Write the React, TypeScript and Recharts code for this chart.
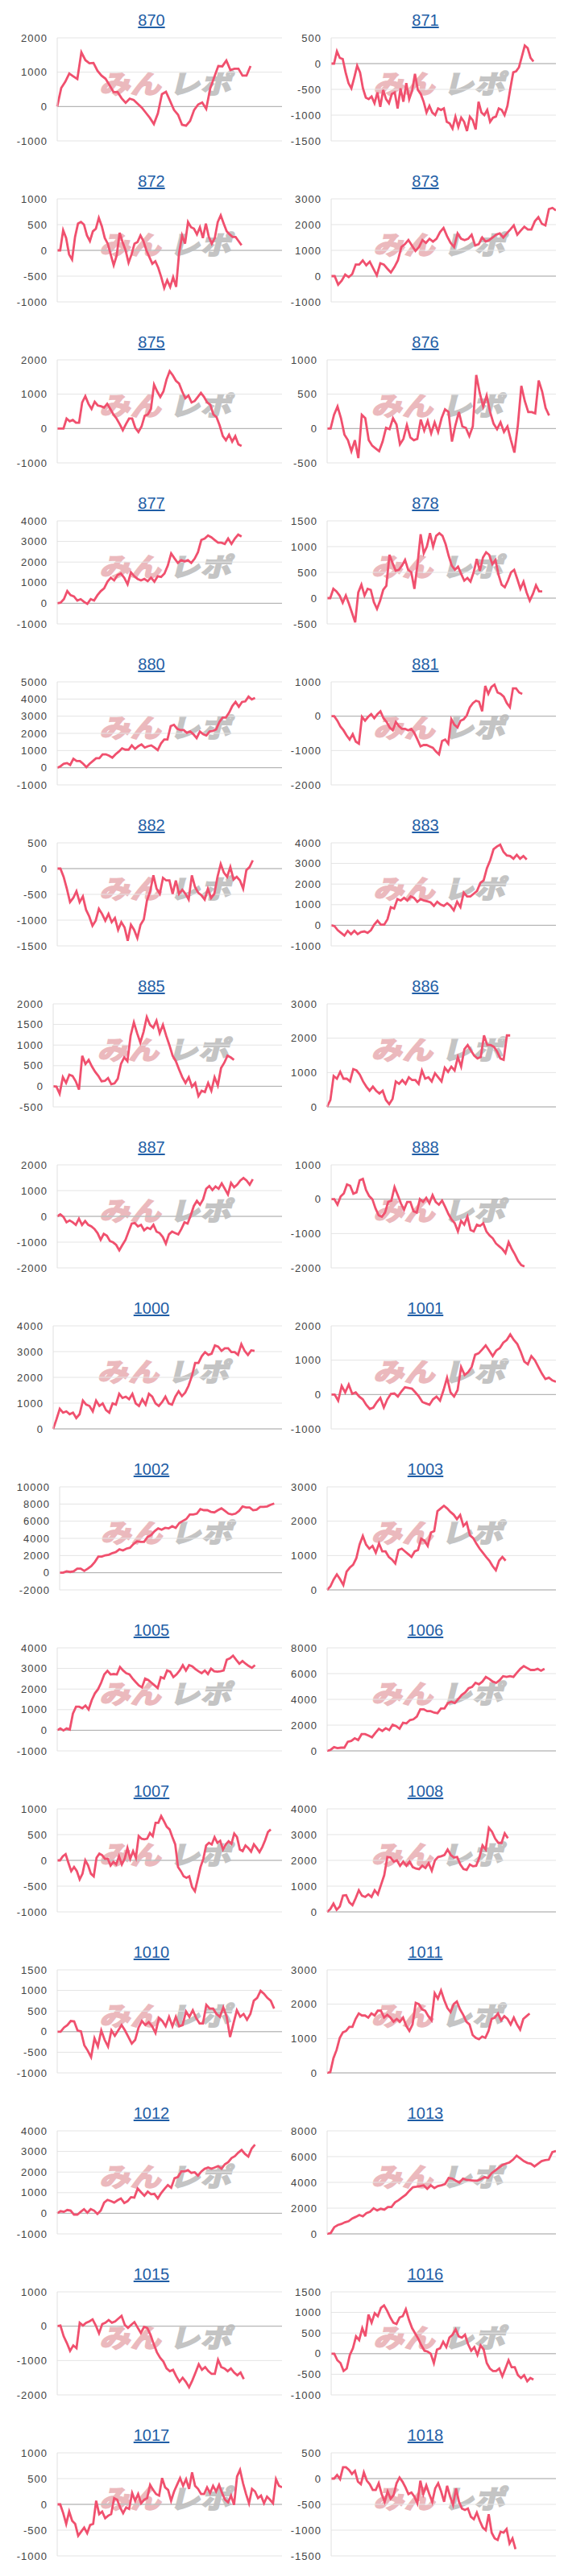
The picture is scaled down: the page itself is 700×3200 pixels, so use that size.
import { LineChart, Line, XAxis, YAxis, CartesianGrid, ReferenceLine } from 'recharts'

// machine numbers, in page order
const TITLES = [
  '870', '871', '872', '873', '875', '876', '877', '878',
  '880', '881', '882', '883', '885', '886', '887', '888',
  '1000', '1001', '1002', '1003', '1005', '1006', '1007', '1008',
  '1010', '1011', '1012', '1013', '1015', '1016', '1017', '1018',
]

// running balance per machine
const s870 = [0, 540, 720, 960, 880, 800, 1580, 1350, 1260, 1270, 1040, 900, 810, 620, 420, 420, 240, 110, 230, 190, 80, -30, -180, -330, -510, -200, 360, 430, 170, -100, -240, -530, -560, -420, -100, 60, 120, -70, 530, 860, 1180, 1170, 1340, 1060, 1100, 1100, 900, 900, 1180]
const s871 = [0, 0, 240, 110, 90, -170, -380, -480, -270, -40, -170, -480, -660, -690, -640, -770, -560, -840, -510, -690, -770, -590, -560, -870, -480, -740, -380, -690, -530, -200, -510, -590, -740, -950, -820, -950, -1000, -870, -900, -870, -1130, -1160, -1260, -1030, -1230, -1050, -1130, -1310, -1030, -1100, -1280, -740, -950, -1000, -900, -1130, -1050, -1030, -870, -900, -1000, -820, -480, -170, -150, -70, 140, 350, 300, 110, 40]
const s872 = [0, 0, 390, 240, -80, -180, 260, 520, 550, 500, 290, 180, 370, 420, 630, 470, 240, 130, -80, -290, -100, 340, 160, 0, -240, -80, 130, 160, 290, 180, 0, -130, -260, -210, -340, -520, -730, -580, -710, -520, -710, -50, 290, 130, 550, 450, 420, 310, 450, 240, 520, 260, 130, 240, 550, 680, 520, 370, 310, 260, 260, 180, 100]
const s873 = [0, 0, -330, -180, 60, -40, 80, 450, 450, 610, 420, 560, 290, 30, 500, 450, 290, 140, 350, 610, 1130, 1240, 1400, 1190, 980, 1130, 1400, 1290, 1450, 1340, 1450, 1710, 1870, 1550, 1290, 1130, 1660, 1450, 1400, 1450, 1610, 1190, 1240, 1500, 1340, 1400, 1500, 1610, 1660, 1500, 1660, 1810, 1970, 1610, 1770, 1920, 1810, 1810, 2130, 2290, 2030, 1970, 2600, 2650, 2550]
const s875 = [0, 0, 0, 290, 210, 250, 170, 170, 760, 940, 720, 570, 780, 670, 650, 610, 720, 570, 410, 290, 130, -50, 130, 290, 290, 20, -100, 60, 370, 410, 570, 1280, 1080, 920, 1080, 1430, 1670, 1550, 1390, 1310, 1080, 880, 960, 760, 800, 920, 1040, 920, 760, 690, 410, 330, 90, -220, -340, -180, -380, -220, -460, -510]
const s876 = [0, 0, 200, 320, 150, -90, -170, -330, -170, -430, 200, 150, -170, -250, -290, -330, -190, 10, -10, 150, 60, -230, -150, 50, -130, -170, -150, 130, -30, 110, -70, 90, -50, 150, 280, 240, -190, 50, 240, 30, 10, -110, 30, 780, 520, 320, 480, 240, 70, -10, 90, -50, 30, -170, -350, 50, 620, 400, 240, 240, 220, 700, 540, 300, 190]
const s877 = [0, 30, 200, 590, 390, 330, 130, 200, 70, -30, 200, 130, 390, 590, 720, 1050, 1240, 1110, 1370, 1440, 1240, 920, 1500, 1310, 1180, 1110, 1180, 1070, 1240, 1050, 1310, 1280, 1440, 1830, 2420, 2180, 1960, 2090, 2030, 2090, 1960, 2160, 2480, 3070, 3140, 3290, 3200, 3070, 2940, 2940, 2880, 3140, 2880, 3140, 3330, 3240]
const s878 = [0, 0, 180, 130, 50, -90, 50, -110, -290, -470, 110, 260, 50, 180, 160, -80, -210, -50, 160, 240, 840, 680, 530, 550, 630, 740, 550, 500, 180, 660, 1240, 870, 1000, 1260, 1000, 1210, 1260, 1210, 1050, 820, 630, 550, 610, 470, 340, 390, 320, 500, 760, 530, 790, 890, 840, 660, 740, 450, 260, 210, 340, 500, 550, 370, 180, 320, 110, -50, 80, 250, 130, 130]
const s880 = [0, 80, 230, 270, 160, 520, 390, 390, 230, 30, 230, 390, 550, 550, 780, 780, 700, 580, 780, 940, 1130, 1050, 1050, 1300, 1090, 1250, 1360, 1170, 1250, 1300, 1170, 1020, 1410, 1640, 1640, 2420, 2500, 2270, 2190, 2190, 2030, 2110, 1950, 1720, 2110, 1950, 1880, 2110, 2140, 2230, 2660, 2920, 2920, 3200, 3590, 3830, 3550, 3830, 3860, 4140, 3980, 4060]
const s881 = [0, 0, -130, -300, -410, -560, -680, -520, -740, -800, -20, -130, -20, 60, -60, 60, 140, -60, -170, -330, -410, -170, -290, -370, -370, -410, -370, -490, -680, -880, -840, -840, -880, -920, -1030, -1110, -720, -680, -800, -90, -250, -330, -130, -90, 20, 260, 380, 450, 420, 140, 880, 650, 850, 920, 690, 650, 570, 380, 260, 810, 810, 690, 650]
const s882 = [0, 0, -160, -390, -650, -570, -440, -650, -540, -800, -930, -1110, -1010, -780, -880, -1010, -880, -1040, -960, -1190, -1040, -1140, -1400, -1090, -1190, -1350, -1090, -990, -620, -440, -130, -390, -490, -180, -230, -230, -490, -230, -490, -410, -490, -600, -130, -360, -470, -520, -600, -390, -570, -490, -160, 90, -80, -160, 30, -210, -160, -230, -390, -30, 30, 160]
const s883 = [0, -40, -240, -370, -500, -270, -430, -270, -430, -330, -300, -370, -240, 30, 220, 30, 30, 290, 880, 810, 1270, 1200, 1330, 1200, 1400, 1330, 1140, 1270, 1200, 1160, 1110, 940, 1140, 1010, 940, 1070, 940, 720, 1140, 880, 1590, 1400, 1400, 1530, 1660, 2050, 2180, 2770, 3160, 3690, 3820, 3910, 3560, 3390, 3360, 3230, 3420, 3230, 3360, 3190]
const s885 = [0, -10, -180, 220, 80, 280, 250, 120, -80, 740, 540, 640, 480, 350, 250, 120, 130, 200, 50, 70, 180, 540, 700, 610, 1230, 1550, 1290, 1060, 1320, 1680, 1490, 1420, 1590, 1290, 1490, 1230, 1000, 740, 610, 410, 220, 80, 220, -10, 80, -240, -110, -140, 80, -110, 220, 20, 440, 570, 740, 700, 640]
const s886 = [0, 200, 900, 820, 1020, 820, 820, 740, 1100, 1060, 940, 740, 590, 470, 590, 470, 390, 470, 200, 80, 230, 740, 670, 780, 670, 860, 780, 780, 670, 1060, 820, 860, 740, 980, 860, 740, 1140, 1020, 1170, 1060, 1450, 1170, 1680, 1800, 1640, 1490, 1410, 1450, 2080, 1800, 1800, 1750, 1610, 1410, 1370, 2080, 2080]
const s887 = [0, 80, -20, -230, -160, -230, -330, -90, -330, -180, -330, -390, -490, -650, -910, -680, -750, -960, -1010, -1110, -1320, -1110, -910, -590, -280, -260, -390, -330, -540, -440, -490, -330, -590, -650, -800, -1060, -700, -590, -650, -700, -490, -230, -280, 30, 400, 600, 450, 660, 1070, 1180, 1020, 1160, 1070, 1280, 1070, 850, 1300, 1130, 1230, 1390, 1490, 1390, 1230, 1440]
const s888 = [0, 0, -160, 80, 170, 430, 390, 160, 200, 550, 590, 270, 90, 0, -270, -470, -510, -390, -80, -40, 350, 120, -120, -310, -80, -80, -350, -390, 0, -80, 40, -120, 120, -80, -160, -40, -230, -430, -590, -700, -940, -630, -740, -510, -900, -940, -740, -780, -700, -940, -1060, -1140, -1290, -1370, -1450, -1570, -1250, -1450, -1610, -1800, -1920, -1960]
const s1000 = [0, 370, 780, 630, 680, 570, 630, 420, 570, 1100, 940, 890, 680, 1100, 890, 990, 730, 630, 990, 940, 1360, 1200, 1250, 1150, 1360, 990, 890, 1150, 940, 1360, 1250, 990, 890, 1040, 1250, 990, 940, 1250, 1460, 1270, 1410, 1670, 2040, 2560, 2560, 2820, 2980, 2870, 2920, 3240, 3190, 3030, 3130, 3130, 2980, 2980, 2870, 3290, 3030, 2870, 3050, 3030]
const s1001 = [0, 0, -180, 250, 60, 290, 20, 60, -60, -140, -300, -420, -380, -220, -100, -380, -140, 20, 30, -60, 90, 210, 190, 170, 60, -60, -220, -260, -300, -140, -60, -180, 130, 490, 60, -60, 130, 800, 570, 650, 800, 1160, 1200, 1310, 1430, 1280, 1120, 1280, 1350, 1510, 1590, 1750, 1590, 1470, 1240, 960, 880, 1120, 1000, 800, 610, 450, 490, 410, 370]
const s1002 = [0, 0, 160, 90, 160, 470, 470, 220, 470, 780, 1250, 1880, 1880, 2030, 2090, 2280, 2410, 2720, 2590, 2810, 2910, 3340, 3660, 3590, 3590, 4160, 4380, 4840, 5160, 5000, 5220, 5160, 5410, 5220, 5780, 6030, 6250, 6780, 6780, 6880, 7410, 7280, 7280, 7090, 7030, 7280, 7500, 7190, 6880, 6780, 6880, 7190, 7720, 7590, 7590, 7280, 7340, 7660, 7660, 7720, 7910, 8060]
const s1003 = [0, 100, 300, 450, 310, 140, 530, 650, 730, 920, 1320, 1570, 1320, 1200, 1280, 1080, 1350, 1120, 1120, 960, 880, 770, 1160, 1200, 1120, 1040, 960, 1120, 1160, 1490, 1430, 1280, 1670, 1710, 2290, 2370, 2450, 2370, 2270, 2190, 2060, 2180, 1860, 1960, 1590, 1510, 1350, 1200, 1080, 960, 850, 690, 570, 850, 960, 850]
const s1005 = [0, 90, -10, 90, 30, 810, 1140, 1140, 1070, 1200, 1010, 1460, 1790, 1990, 2310, 2710, 2880, 2710, 2730, 2710, 3070, 2900, 2770, 2710, 2510, 2340, 2180, 2080, 2510, 2440, 2310, 2180, 2050, 2580, 2510, 2900, 2840, 2580, 2710, 2900, 3160, 2900, 3160, 3100, 2970, 2860, 2770, 2900, 2730, 2990, 2860, 2840, 2860, 2900, 3420, 3490, 3620, 3420, 3230, 3360, 3230, 3120, 3030, 3160]
const s1006 = [0, 80, 290, 210, 250, 250, 710, 770, 980, 840, 1300, 1300, 1190, 1050, 1400, 1720, 1550, 1760, 1610, 2030, 1930, 1720, 2180, 2140, 2390, 2450, 2660, 3230, 3230, 3080, 3080, 2970, 2930, 3290, 3290, 3710, 3810, 3710, 4020, 4340, 4540, 4860, 4960, 5280, 5170, 5380, 5740, 5590, 5380, 5280, 5490, 5800, 5740, 5800, 5740, 6070, 6370, 6580, 6430, 6280, 6280, 6370, 6220, 6370]
const s1007 = [0, 0, 80, 120, -50, -210, -130, -210, -370, -260, 0, -100, -260, -310, 50, 130, 100, 30, 30, -100, -30, -80, 80, -80, 30, 240, 30, 180, 50, 470, 420, 410, 420, 530, 470, 730, 730, 860, 760, 650, 600, 450, 310, -130, -210, -310, -340, -310, -520, -600, -370, -130, 30, 290, 340, 310, 450, 340, 380, 210, 310, 370, 320, 520, 450, 210, 180, 290, 240, 170, 310, 240, 160, 260, 390, 550, 600]
const s1008 = [0, 110, 320, 80, 210, 630, 650, 370, 260, 530, 840, 630, 580, 680, 580, 840, 680, 1050, 1420, 2130, 2110, 1950, 2000, 1790, 1950, 1790, 1950, 1740, 1680, 1660, 1790, 1700, 1890, 1600, 2000, 2130, 2160, 2210, 2420, 2210, 2110, 2130, 1840, 1660, 1630, 1840, 1770, 1790, 2110, 2580, 2420, 3260, 3110, 2840, 2680, 2680, 3050, 2860]
const s1010 = [0, 0, 100, 160, 260, 250, 30, 10, -330, -460, -620, -160, -360, 30, -200, -360, 30, -100, 30, 160, 30, -130, -290, -200, 100, 260, 160, 230, 130, -30, 330, 260, 130, 360, 130, 360, 130, 160, 490, 360, 520, 330, 200, 200, 650, 560, 560, 430, 360, 590, 360, -130, 200, 520, 360, 430, 290, 430, 750, 820, 990, 920, 820, 750, 560]
const s1011 = [0, 20, 430, 670, 1020, 1180, 1220, 1340, 1340, 1570, 1730, 1670, 1670, 1610, 1730, 1670, 1810, 1810, 1610, 1690, 1610, 1490, 1570, 1490, 1610, 1370, 1220, 1410, 2040, 2000, 1850, 1810, 1650, 1530, 2320, 2160, 2400, 2120, 1890, 1770, 2000, 2080, 1850, 1690, 1490, 1410, 1100, 1020, 980, 1060, 1020, 1220, 1570, 1610, 1730, 1530, 1650, 1570, 1410, 1610, 1410, 1260, 1570, 1650, 1730]
const s1012 = [0, 100, 70, 160, 130, -70, -70, 70, 200, 30, 200, 130, -30, 130, 520, 650, 590, 520, 630, 720, 500, 590, 780, 760, 1200, 1020, 850, 1050, 920, 940, 720, 980, 1180, 1370, 1240, 1700, 1760, 2030, 2030, 2090, 1960, 1990, 1830, 2030, 2160, 2220, 2160, 2220, 2290, 2160, 2380, 2480, 2680, 2770, 2940, 3070, 2880, 2750, 3140, 3330]
const s1013 = [0, 60, 520, 690, 770, 900, 980, 1190, 1320, 1470, 1360, 1610, 1720, 1990, 1820, 1950, 1880, 2090, 2090, 2450, 2620, 2830, 3040, 3350, 3620, 3660, 3710, 3770, 3500, 3770, 3560, 3710, 3770, 3870, 4340, 4290, 4130, 3980, 4290, 4190, 4170, 4130, 4130, 4250, 4400, 4340, 4710, 4920, 5130, 5340, 5450, 5550, 5760, 6070, 5860, 5650, 5510, 5450, 5240, 5450, 5650, 5720, 5760, 6350, 6430]
const s1015 = [0, 20, -290, -490, -720, -560, -640, 100, 20, 100, 140, 200, 20, -210, 60, 100, 180, 100, 140, 220, 300, 40, -50, 40, 120, -40, -200, -20, -50, -250, -520, -760, -920, -1030, -1230, -1310, -1270, -1460, -1620, -1500, -1620, -1780, -1580, -1350, -1110, -1270, -1190, -1310, -1390, -1390, -980, -1190, -1230, -1310, -1230, -1350, -1430, -1350, -1540]
const s1016 = [0, 0, -160, -230, -420, -360, -30, 130, 420, 330, 620, 420, 950, 750, 980, 910, 1110, 1170, 1040, 880, 750, 720, 880, 910, 1080, 820, 620, 490, 360, 200, 70, 50, 0, -230, 100, 130, 290, 160, 390, 460, 590, 420, 390, 460, 230, 70, 160, -30, 200, 100, -230, -360, -420, -420, -360, -550, -360, -160, -330, -330, -520, -590, -520, -670, -590, -630]
const s1017 = [0, 0, -170, -380, -140, -320, -380, -610, -530, -450, -560, -400, -380, 70, -190, -140, -270, -220, -190, 120, 90, -60, -170, -60, -90, 220, 70, 200, 20, 90, 120, 380, 280, 200, 170, 510, 330, 280, 70, 250, 380, 510, 360, 490, 300, 620, 360, 300, 200, 200, 330, 220, 360, 250, 380, 220, 90, 40, 170, -10, 540, 670, 410, 200, 20, 300, 250, 120, 170, 20, 150, 90, 20, 490, 360, 330]
const s1018 = [0, 0, 70, -10, 220, 220, 170, 90, 150, -60, -110, 120, -40, -110, -220, -220, -90, -300, -450, -250, -390, -320, -90, 20, -60, -170, -300, -270, -350, -480, -40, -300, -130, -300, -450, -190, -90, -250, -450, -140, -350, -510, -190, -450, -580, -610, -580, -740, -790, -660, -820, -950, -1000, -690, -1050, -1160, -1190, -1030, -1050, -980, -1260, -1160, -1370]

const SERIES = [
  s870, s871, s872, s873, s875, s876, s877, s878,
  s880, s881, s882, s883, s885, s886, s887, s888,
  s1000, s1001, s1002, s1003, s1005, s1006, s1007, s1008,
  s1010, s1011, s1012, s1013, s1015, s1016, s1017, s1018,
]

// y-axis tick labels per machine
const TICKS = [
  [-1000, 0, 1000, 2000],
  [-1500, -1000, -500, 0, 500],
  [-1000, -500, 0, 500, 1000],
  [-1000, 0, 1000, 2000, 3000],
  [-1000, 0, 1000, 2000],
  [-500, 0, 500, 1000],
  [-1000, 0, 1000, 2000, 3000, 4000],
  [-500, 0, 500, 1000, 1500],
  [-1000, 0, 1000, 2000, 3000, 4000, 5000],
  [-2000, -1000, 0, 1000],
  [-1500, -1000, -500, 0, 500],
  [-1000, 0, 1000, 2000, 3000, 4000],
  [-500, 0, 500, 1000, 1500, 2000],
  [0, 1000, 2000, 3000],
  [-2000, -1000, 0, 1000, 2000],
  [-2000, -1000, 0, 1000],
  [0, 1000, 2000, 3000, 4000],
  [-1000, 0, 1000, 2000],
  [-2000, 0, 2000, 4000, 6000, 8000, 10000],
  [0, 1000, 2000, 3000],
  [-1000, 0, 1000, 2000, 3000, 4000],
  [0, 2000, 4000, 6000, 8000],
  [-1000, -500, 0, 500, 1000],
  [0, 1000, 2000, 3000, 4000],
  [-1000, -500, 0, 500, 1000, 1500],
  [0, 1000, 2000, 3000],
  [-1000, 0, 1000, 2000, 3000, 4000],
  [0, 2000, 4000, 6000, 8000],
  [-2000, -1000, 0, 1000],
  [-1000, -500, 0, 500, 1000, 1500],
  [-1000, -500, 0, 500, 1000],
  [-1500, -1000, -500, 0, 500],
]

// share of the x axis the series has reached so far
const SPANS = [
  0.86, 0.9, 0.82, 1, 0.82, 0.97, 0.82, 0.94,
  0.88, 0.85, 0.87, 0.87, 0.79, 0.8, 0.87, 0.86,
  0.88, 1, 0.965, 0.78, 0.88, 0.95, 0.95, 0.79,
  0.965, 0.885, 0.88, 1, 0.83, 0.9, 1, 0.82,
]

const W = 340
const H = 200
const FONT = 'Arial, "Liberation Sans", sans-serif'
const LOGO_FONT = '"Noto Sans CJK JP", sans-serif'

const labelWidth = (t: number) =>
  String(t).split('').reduce((w, c) => w + (c === '-' ? 5.3 : 8.2), 0)

// faint site logo behind each plot
function Watermark({ cx }: { cx: number }) {
  const left = cx - 82
  return (
    <svg width={W} height={H} style={{ position: 'absolute', left: 0, top: 0 }}>
      <g transform={`translate(${left}, 116) skewX(-14)`}>
        <text x={0} y={0} fontSize={32} fontWeight={700} fill="#ebb9bd" stroke="#ebb9bd" strokeWidth={2.2}
          fontFamily={LOGO_FONT} textLength={77} lengthAdjust="spacingAndGlyphs">
          みん
        </text>
        <text x={87} y={0} fontSize={32} fontWeight={700} fill="#c4c4c4" stroke="#c4c4c4" strokeWidth={2.2}
          fontFamily={LOGO_FONT} textLength={77} lengthAdjust="spacingAndGlyphs">
          レポ
        </text>
      </g>
    </svg>
  )
}

function MiniChart({ title, values, ticks, span }: { title: string; values: number[]; ticks: number[]; span: number }) {
  const data = values.map((v, i) => ({ i, v }))
  const xMax = (values.length - 1) / span
  const yw = Math.round(10 + Math.max(...ticks.map(labelWidth)) + 13)
  const plotCx = yw + (W - yw) / 2 - 5

  return (
    <div style={{ position: 'relative', width: W, height: H, fontFamily: FONT, letterSpacing: 1 }}>
      <div style={{
        position: 'absolute', left: 128, top: 15, width: 100, textAlign: 'center',
        fontSize: 20, lineHeight: '20px', color: '#1f5ea6', textDecoration: 'underline', letterSpacing: 0,
      }}>
        {title}
      </div>
      <Watermark cx={plotCx} />
      <LineChart width={W} height={H} data={data} margin={{ top: 47, right: 0, bottom: 25, left: 0 }}>
        <CartesianGrid vertical={false} stroke="#e4e4e4" />
        <XAxis type="number" dataKey="i" domain={[0, xMax]} hide />
        <YAxis
          domain={[ticks[0], ticks[ticks.length - 1]]}
          ticks={ticks}
          interval={0}
          width={yw}
          tickLine={false}
          tickSize={0}
          tickMargin={12}
          axisLine={{ stroke: '#e0e0e0' }}
          tick={{ fill: '#444', fontSize: 13 }}
        />
        <ReferenceLine y={0} stroke="#acacac" />
        <Line
          type="linear"
          dataKey="v"
          stroke="#f0506e"
          strokeWidth={2.8}
          dot={false}
          isAnimationActive={false}
        />
      </LineChart>
    </div>
  )
}

export default function App() {
  return (
    <div style={{ width: 700, display: 'grid', gridTemplateColumns: `${W}px ${W}px`, paddingLeft: 10, boxSizing: 'border-box' }}>
      <style>{'body{margin:0}'}</style>
      {TITLES.map((t, k) => (
        <MiniChart key={t} title={t} values={SERIES[k]} ticks={TICKS[k]} span={SPANS[k]} />
      ))}
    </div>
  )
}
